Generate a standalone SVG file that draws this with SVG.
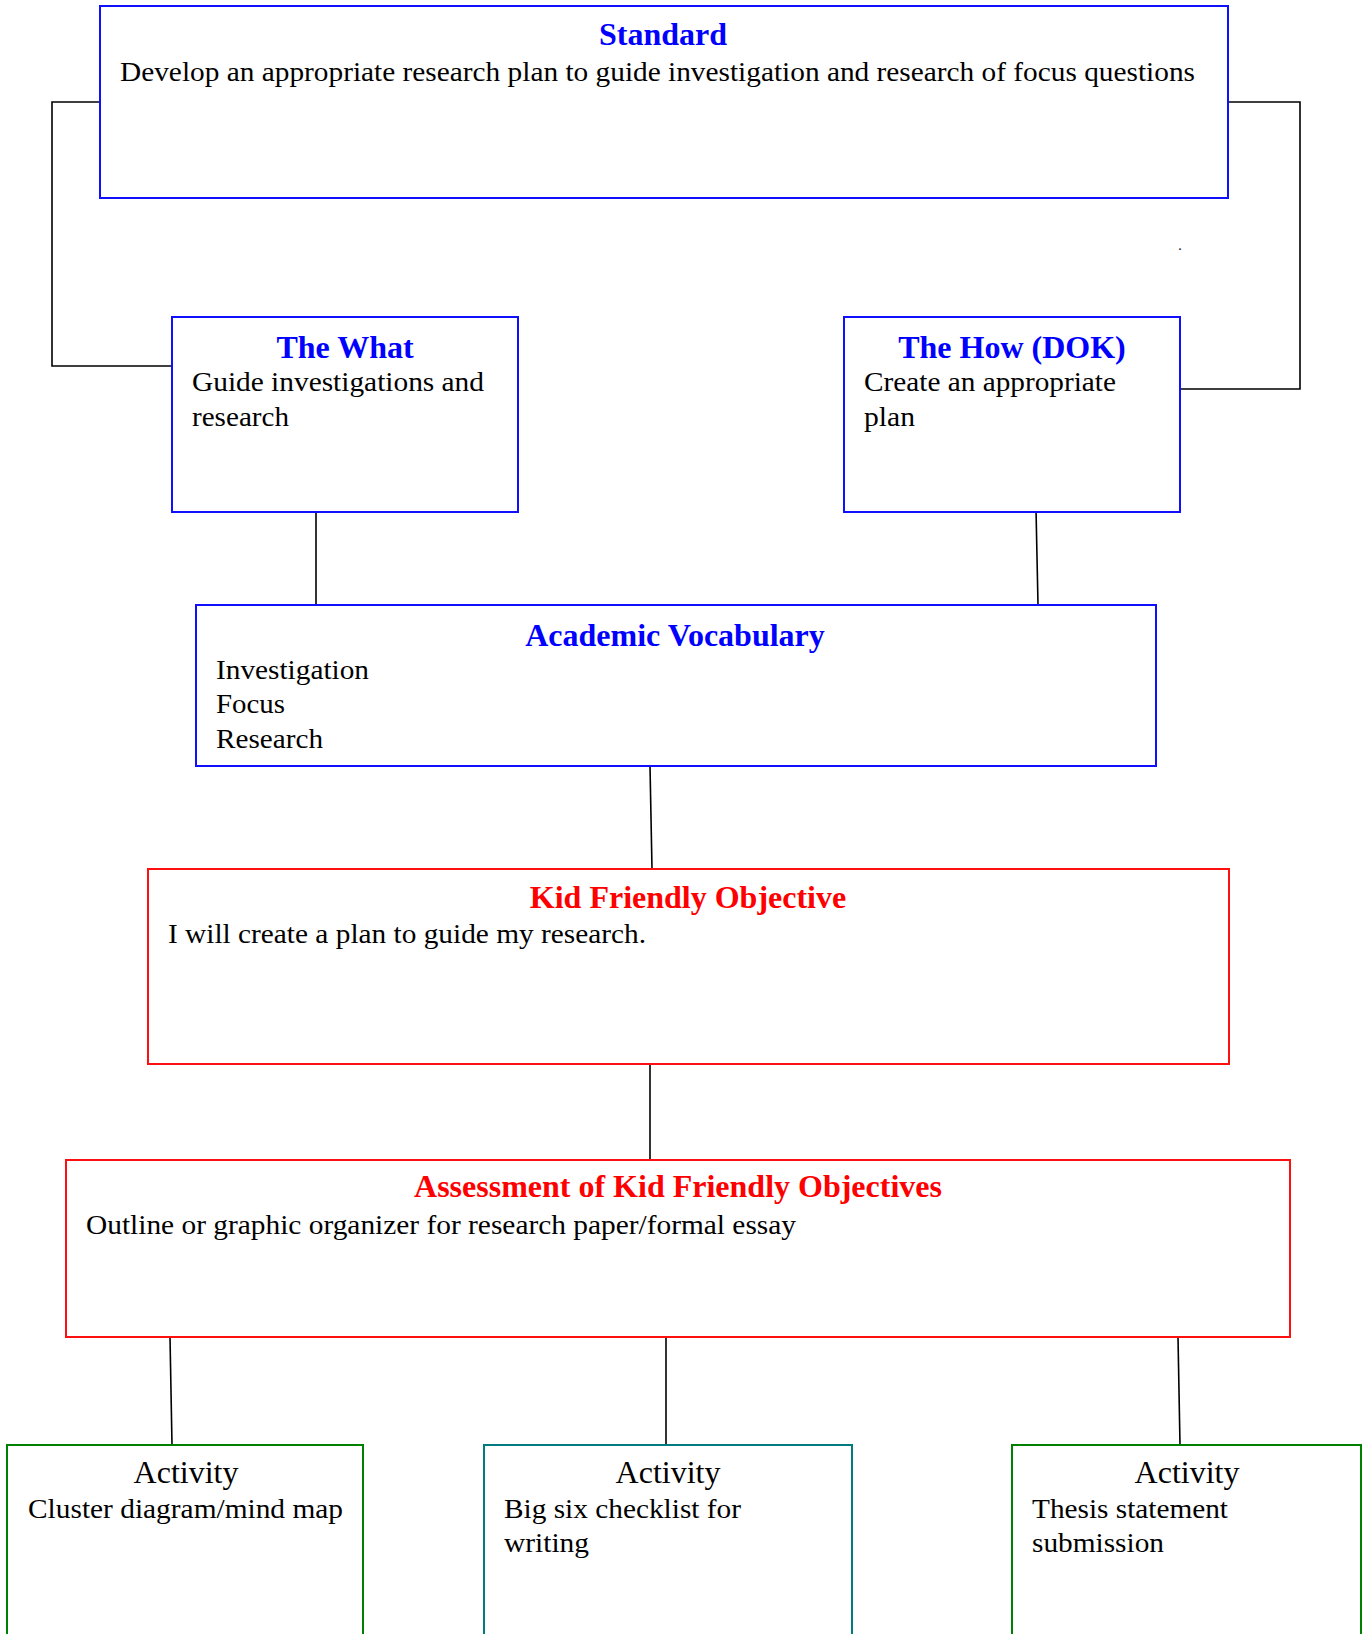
<svg xmlns="http://www.w3.org/2000/svg" width="1368" height="1634" viewBox="0 0 1368 1634">
<style>
.box{fill:#fff;stroke-width:2}
.blue{stroke:#1010ff}
.red{stroke:#ff1010}
.green{stroke:#008000}
.teal{stroke:#007b80}
.t{font-family:"Liberation Serif","Times New Roman",serif}
.tb{font-family:"Liberation Serif","Times New Roman",serif;font-weight:bold;font-size:32px;text-anchor:middle}
.tbb{fill:#0000ff}
.tbr{fill:#ff0000}
.body{font-size:27px;fill:#000}
.act{font-size:32px;fill:#000;text-anchor:middle}
.conn{fill:none;stroke:#000;stroke-width:1.6}
</style>
<rect width="1368" height="1634" fill="#fff"/>
<g id="connectors">
<polyline class="conn" points="100,102 52,102 52,366 172,366"/>
<polyline class="conn" points="1228,102 1300,102 1300,389 1180,389"/>
<line class="conn" x1="316" y1="509" x2="316" y2="605"/>
<line class="conn" x1="1036" y1="509" x2="1038" y2="605"/>
<line class="conn" x1="650" y1="766" x2="652" y2="869"/>
<line class="conn" x1="650" y1="1064" x2="650" y2="1160"/>
<line class="conn" x1="170" y1="1337" x2="172" y2="1445"/>
<line class="conn" x1="666" y1="1337" x2="666" y2="1445"/>
<line class="conn" x1="1178" y1="1337" x2="1180" y2="1445"/>
</g>
<g id="standard">
<rect class="box blue" x="100" y="6" width="1128" height="192"/>
<text class="tb tbb" x="663" y="45">Standard</text>
<text class="t body" x="120" y="81" textLength="1075" lengthAdjust="spacingAndGlyphs">Develop an appropriate research plan to guide investigation and research of focus questions</text>
</g>
<text class="t" x="1180" y="250" font-size="14" text-anchor="middle">.</text>
<g id="the-what">
<rect class="box blue" x="172" y="317" width="346" height="195"/>
<text class="tb tbb" x="345" y="358">The What</text>
<text class="t body" x="192" y="391" textLength="292" lengthAdjust="spacingAndGlyphs">Guide investigations and</text>
<text class="t body" x="192" y="426" textLength="97" lengthAdjust="spacingAndGlyphs">research</text>
</g>
<g id="the-how">
<rect class="box blue" x="844" y="317" width="336" height="195"/>
<text class="tb tbb" x="1012" y="358">The How (DOK)</text>
<text class="t body" x="864" y="391" textLength="252" lengthAdjust="spacingAndGlyphs">Create an appropriate</text>
<text class="t body" x="864" y="426" textLength="51" lengthAdjust="spacingAndGlyphs">plan</text>
</g>
<g id="academic-vocabulary">
<rect class="box blue" x="196" y="605" width="960" height="161"/>
<text class="tb tbb" x="675" y="646">Academic Vocabulary</text>
<text class="t body" x="216" y="679" textLength="153" lengthAdjust="spacingAndGlyphs">Investigation</text>
<text class="t body" x="216" y="713" textLength="69" lengthAdjust="spacingAndGlyphs">Focus</text>
<text class="t body" x="216" y="748" textLength="107" lengthAdjust="spacingAndGlyphs">Research</text>
</g>
<g id="kid-friendly-objective">
<rect class="box red" x="148" y="869" width="1081" height="195"/>
<text class="tb tbr" x="688" y="908">Kid Friendly Objective</text>
<text class="t body" x="168" y="943" textLength="478" lengthAdjust="spacingAndGlyphs">I will create a plan to guide my research.</text>
</g>
<g id="assessment">
<rect class="box red" x="66" y="1160" width="1224" height="177"/>
<text class="tb tbr" x="678" y="1197">Assessment of Kid Friendly Objectives</text>
<text class="t body" x="86" y="1234" textLength="710" lengthAdjust="spacingAndGlyphs">Outline or graphic organizer for research paper/formal essay</text>
</g>
<g id="activity-1">
<rect class="box green" x="7" y="1445" width="356" height="200"/>
<text class="t act" x="186" y="1483">Activity</text>
<text class="t body" x="28" y="1518" textLength="315" lengthAdjust="spacingAndGlyphs">Cluster diagram/mind map</text>
</g>
<g id="activity-2">
<rect class="box teal" x="484" y="1445" width="368" height="200"/>
<text class="t act" x="668" y="1483">Activity</text>
<text class="t body" x="504" y="1518" textLength="237" lengthAdjust="spacingAndGlyphs">Big six checklist for</text>
<text class="t body" x="504" y="1552" textLength="85" lengthAdjust="spacingAndGlyphs">writing</text>
</g>
<g id="activity-3">
<rect class="box green" x="1012" y="1445" width="349" height="200"/>
<text class="t act" x="1187" y="1483">Activity</text>
<text class="t body" x="1032" y="1518" textLength="196" lengthAdjust="spacingAndGlyphs">Thesis statement</text>
<text class="t body" x="1032" y="1552" textLength="132" lengthAdjust="spacingAndGlyphs">submission</text>
</g>
</svg>
